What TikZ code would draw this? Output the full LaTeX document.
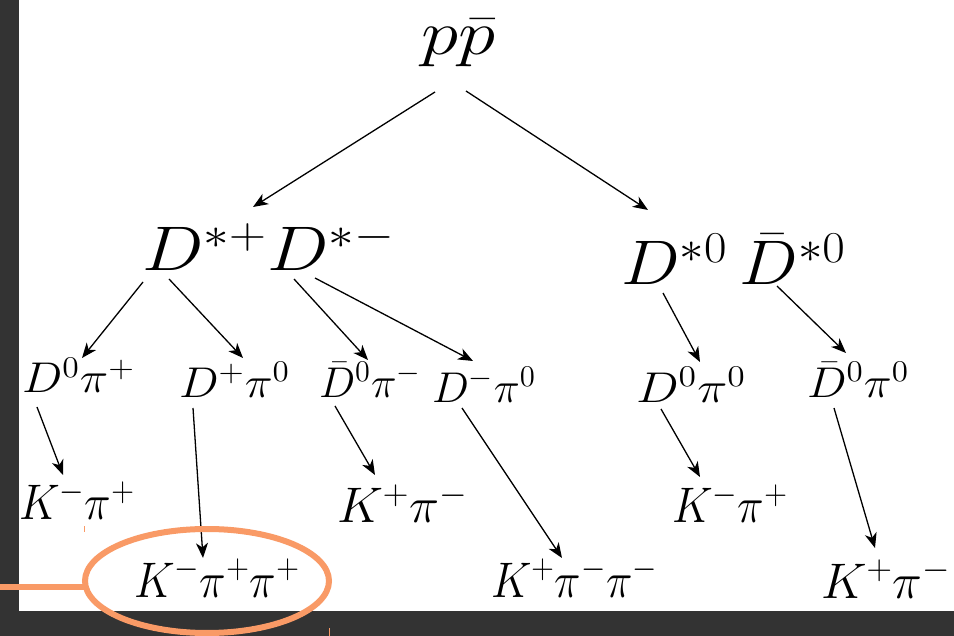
\RequirePackage{fix-cm}
\documentclass[tikz,border=0pt]{standalone}
\usepackage{graphicx}
\usetikzlibrary{arrows.meta,calc}
\definecolor{frame}{HTML}{333333}
\definecolor{hilite}{HTML}{F99A66}
\newcommand{\fitw}[2]{\resizebox{#1pt}{\height}{$#2$}}
\begin{document}
\begin{tikzpicture}[x=0.5pt,y=-0.5pt,
  lbl/.style={anchor=base west,inner sep=0pt,outer sep=0pt},
  big/.style={lbl,font=\fontsize{31.5}{38}\selectfont},
  mid/.style={lbl,font=\fontsize{21.5}{25}\selectfont},
  fin/.style={lbl,font=\fontsize{25}{30}\selectfont},
  arr/.style={-{Stealth[length=7.5pt,width=6pt,inset=2.2pt]},line width=0.65pt,black},
  ring/.style={draw=hilite,line width=3pt}]
\useasboundingbox (0,0) rectangle (954,636);
\fill[white] (0,0) rectangle (954,636);
\fill[frame] (0,0) rectangle (19,636);
\fill[frame] (0,611) rectangle (954,636);
% nodes
\node[big] (pp)  at (421,55)  {\fitw{37}{p\bar p}};
\node[big] (dpm) at (142,271) {\fitw{126.5}{D^{*+}D^{*-}}};
\node[big] (dzz) at (621,285) {\fitw{112.5}{D^{*0}\,\bar D^{*0}}};
\node[mid] (ra) at (22,393)  {\fitw{56.5}{D^0\pi^+}};
\node[mid] (rb) at (179,397) {\fitw{55.5}{D^+\pi^0}};
\node[mid] (rc) at (319,397) {\fitw{51}{\bar D^0\pi^-}};
\node[mid] (rd) at (432,402) {\fitw{52}{D^-\pi^0}};
\node[mid] (re) at (636,402) {\fitw{55}{D^0\pi^0}};
\node[mid] (rf) at (807,397) {\fitw{51}{\bar D^0\pi^0}};
\node[fin] (ka) at (19,520)  {\fitw{58}{K^-\pi^+}};
\node[fin] (kb) at (337,523) {\fitw{65.5}{K^+\pi^-}};
\node[fin] (kc) at (672,523) {\fitw{58}{K^-\pi^+}};
\node[fin] (la) at (134,597) {\fitw{83}{K^-\pi^+\pi^+}};
\node[fin] (lb) at (491,597) {\fitw{83.5}{K^+\pi^-\pi^-}};
\node[fin] (lc) at (821,598) {\fitw{65}{K^+\pi^-}};
% connectors
\draw[arr] ($(pp.base west)+(14,37)$) -- ($(dpm.base west)+(111,-64)$);
\draw[arr] ($(pp.base west)+(45,36)$) -- ($(dzz.base west)+(27,-75)$);
\draw[arr] ($(dpm.base west)+(1,11)$) -- ($(ra.base west)+(60,-35)$);
\draw[arr] ($(dpm.base west)+(27,8)$) -- ($(rb.base west)+(64,-39)$);
\draw[arr] ($(dpm.base west)+(152,8)$) -- ($(rc.base west)+(49,-37)$);
\draw[arr] ($(dpm.base west)+(173,7)$) -- ($(rd.base west)+(41,-41)$);
\draw[arr] ($(dzz.base west)+(42,8)$) -- ($(re.base west)+(64,-40)$);
\draw[arr] ($(dzz.base west)+(156,1)$) -- ($(rf.base west)+(39,-44)$);
\draw[arr] ($(ra.base west)+(15,14)$) -- ($(ka.base west)+(44,-45)$);
\draw[arr] ($(rb.base west)+(14,11)$) -- ($(la.base west)+(69,-39)$);
\draw[arr] ($(rc.base west)+(16,9)$) -- ($(kb.base west)+(38,-48)$);
\draw[arr] ($(rd.base west)+(30,6)$) -- ($(lb.base west)+(71,-39)$);
\draw[arr] ($(re.base west)+(25,7)$) -- ($(kc.base west)+(28,-46)$);
\draw[arr] ($(rf.base west)+(27,11)$) -- ($(lc.base west)+(54,-50)$);
% highlight
\draw[ring] (207,581) ellipse [x radius=122, y radius=52];
\draw[ring] (0,587) -- (85,587);
\draw[hilite,line width=0.5pt] (84,526) -- (84,532);
\draw[hilite,line width=0.5pt] (329,628) -- (329,636);
\end{tikzpicture}
\end{document}
